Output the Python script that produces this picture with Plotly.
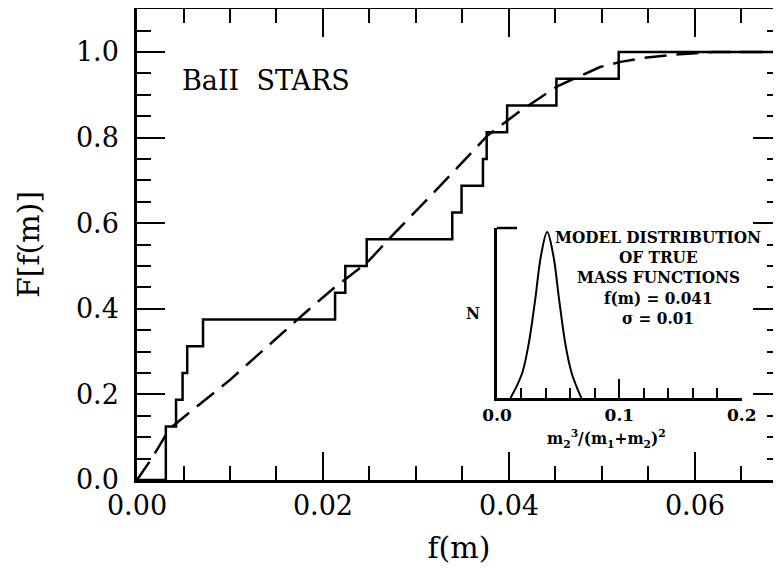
import numpy as np
import plotly.graph_objects as go

# ---------------- data ----------------
# observed mass functions of the BaII stars (step CDF)
mass_functions = [0.0031, 0.0031, 0.0042, 0.0049, 0.0054, 0.0071, 0.0213, 0.0224,
                  0.0247, 0.0339, 0.0349, 0.0372, 0.0376, 0.0398, 0.0451, 0.0518]
# model cumulative distribution (dashed)
model_f = [0.0, 0.0017, 0.0035, 0.0075, 0.0100, 0.0183, 0.0213, 0.0247, 0.0277, 0.0329,
           0.0369, 0.0377, 0.0412, 0.0452, 0.0498, 0.0520, 0.0544, 0.0584, 0.0620, 0.0693]
model_F = [0.0, 0.054, 0.120, 0.190, 0.234, 0.395, 0.451, 0.507, 0.577, 0.694,
           0.787, 0.805, 0.862, 0.920, 0.965, 0.977, 0.986, 0.995, 1.000, 1.000]
# inset: model distribution of true mass functions
gauss_x = [0.011, 0.016, 0.021, 0.026, 0.031, 0.036, 0.041, 0.046, 0.051, 0.056, 0.061, 0.066, 0.069]
gauss_N = [0.0, 0.07, 0.16, 0.33, 0.58, 0.86, 1.0, 0.86, 0.58, 0.32, 0.15, 0.05, 0.0]

x_ticks = [0.0, 0.02, 0.04, 0.06]
y_ticks = [0.0, 0.2, 0.4, 0.6, 0.8, 1.0]
inset_ticks = [0.0, 0.1, 0.2]
inset_lines = ["MODEL DISTRIBUTION", "OF TRUE", "MASS FUNCTIONS", "f(m) = 0.041", "σ = 0.01"]
inset_xtitle = "m<sub>2</sub><sup>3</sup>/(m<sub>1</sub>+m<sub>2</sub>)<sup>2</sup>"

X_RANGE = [0, 0.06925]
Y_RANGE = [0, 1.1005]

# ---------------- figure ----------------
n = len(mass_functions)
cum = list(np.arange(1, n + 1) / n)
step_x = [0.0] + mass_functions + [X_RANGE[1]]
step_y = [0.0] + cum + [cum[-1]]

SERIF = "DejaVu Serif"
INSET_FONT = "DejaVu Serif Condensed, Liberation Serif"
fig = go.Figure()
fig.add_trace(go.Scatter(x=step_x, y=step_y, mode="lines", line_shape="hv",
                         line=dict(color="black", width=2.5), showlegend=False))
fig.add_trace(go.Scatter(x=model_f, y=model_F, mode="lines",
                         line=dict(color="black", width=2.5, dash="22px,10px"), showlegend=False))
fig.add_trace(go.Scatter(x=gauss_x, y=gauss_N, mode="lines", line_shape="spline",
                         line=dict(color="black", width=2), xaxis="x2", yaxis="y2", showlegend=False))

axis_common = dict(showline=True, linecolor="black", linewidth=2.5, mirror="ticks",
                   ticks="inside", tickcolor="black", tickwidth=2, ticklen=28,
                   showgrid=False, zeroline=False, automargin=False,
                   tickfont=dict(family=SERIF, size=27, color="black"))

# page body has an 8px margin: figure is placed at (8, 8) in the 781x569 window
fig.update_layout(
    width=773, height=561,
    margin=dict(l=129, r=0, t=1, b=89),
    paper_bgcolor="white", plot_bgcolor="white",
    xaxis=dict(range=X_RANGE, tickvals=x_ticks, tickformat=".2f",
               minor=dict(dtick=0.005, ticks="inside", ticklen=14, tickwidth=2, tickcolor="black"),
               title=dict(text="f(m)", font=dict(family=SERIF, size=30, color="black"), standoff=17),
               ticklabelstandoff=0,
               **axis_common),
    yaxis=dict(range=Y_RANGE, tickvals=y_ticks, tickformat=".1f",
               minor=dict(dtick=0.05, ticks="inside", ticklen=14, tickwidth=2, tickcolor="black"),
               title=dict(text="F[f(m)]", font=dict(family=SERIF, size=30, color="black"), standoff=28),
               ticklabelstandoff=10,
               **axis_common),
    xaxis2=dict(domain=[0.559, 0.939], anchor="y2", range=[0, 0.2], tickvals=inset_ticks,
                tickformat=".1f", showline=True, linecolor="black", linewidth=2.5,
                ticks="inside", ticklen=19, tickwidth=2, tickcolor="black", automargin=False,
                minor=dict(dtick=0.02, ticks="inside", ticklen=10, tickwidth=2, tickcolor="black"),
                showgrid=False, zeroline=False,
                tickfont=dict(family=SERIF, size=17, color="black", weight="bold")),
    yaxis2=dict(domain=[0.1741, 0.535], anchor="x2", range=[0, 1.024], showline=True,
                linecolor="black", linewidth=2.5, ticks="", showticklabels=False,
                showgrid=False, zeroline=False, automargin=False),
)

# inset frame corner piece
fig.add_shape(type="line", xref="x2 domain", yref="y2 domain", x0=0, x1=0.082, y0=1, y1=1,
              line=dict(color="black", width=2.5))

# inset axis labels
fig.add_annotation(text="N", xref="x2 domain", yref="y2 domain", x=-0.1, y=0.5,
                   xanchor="center", yanchor="middle", showarrow=False,
                   font=dict(family=INSET_FONT, size=17, color="black", weight="bold"))
fig.add_annotation(text=inset_xtitle, xref="x2 domain", yref="paper", x=0.449, y=(480 - 438) / 471,
                   xanchor="center", yanchor="middle", showarrow=False,
                   font=dict(family=INSET_FONT, size=17, color="black", weight="bold"))

fig.add_annotation(text="BaII  STARS", xref="paper", yref="paper", x=0.0668, y=0.849,
                   xanchor="left", yanchor="middle", showarrow=False,
                   font=dict(family=SERIF, size=27, color="black"))

for i, line in enumerate(inset_lines):
    y_px = 237 + 20.2 * i
    fig.add_annotation(text=line, xref="paper", yref="paper",
                       x=(658 - 137) / 644, y=(480 - y_px) / 471,
                       xanchor="center", yanchor="middle", showarrow=False,
                       font=dict(family=INSET_FONT, size=17, color="black", weight="bold"))

fig.write_html("out.html")
